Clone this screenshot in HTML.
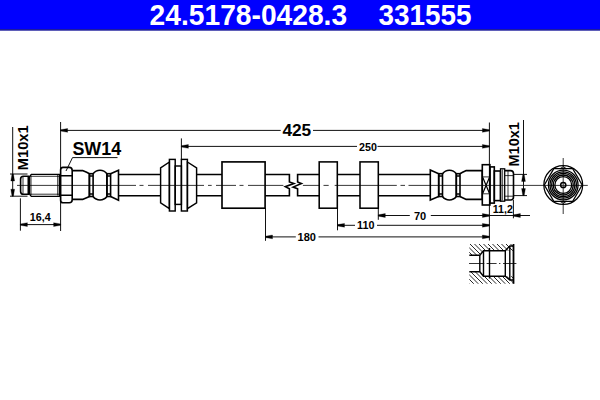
<!DOCTYPE html>
<html><head><meta charset="utf-8"><style>
html,body{margin:0;padding:0;background:#fff;width:600px;height:400px;overflow:hidden}
svg{display:block}
text{font-family:"Liberation Sans",sans-serif;font-weight:bold}
</style></head><body>
<svg width="600" height="400" viewBox="0 0 600 400">
<rect x="0" y="0" width="600" height="29" fill="#0000ff"/>
<rect x="0" y="29" width="600" height="1.7" fill="#1c1c9c"/>
<text transform="translate(149.6,24.6) scale(1,1.035)" font-size="28.2" fill="#fff">24.5178-0428.3</text>
<text transform="translate(378.5,24.6) scale(1,1.035)" font-size="27.9" fill="#fff">331555</text>

<g fill="none" stroke="#111" stroke-width="1">
<!-- left M10x1 dim -->
<line x1="12.7" y1="127" x2="12.7" y2="196.2"/>
<line x1="10" y1="174" x2="27.5" y2="174"/>
<line x1="10" y1="196.2" x2="27.5" y2="196.2"/>
<!-- right M10x1 dim -->
<line x1="523.5" y1="120" x2="523.5" y2="195.6"/>
<line x1="513.5" y1="174.4" x2="527" y2="174.4"/>
<line x1="513.5" y1="195.6" x2="527" y2="195.6"/>
<!-- 425 -->
<line x1="60.6" y1="122" x2="60.6" y2="231"/>
<line x1="489.4" y1="122.5" x2="489.4" y2="240.5"/>
<line x1="60.6" y1="130.4" x2="280.7" y2="130.4"/>
<line x1="313" y1="130.4" x2="489.4" y2="130.4"/>
<!-- 250 -->
<line x1="181.4" y1="138.4" x2="181.4" y2="160"/>
<line x1="181.4" y1="146.4" x2="357" y2="146.4"/>
<line x1="377.5" y1="146.4" x2="489.4" y2="146.4"/>
<!-- SW14 leader -->
<polyline points="117.5,157.6 72.5,157.6 66,171"/>
<!-- 16,4 -->
<line x1="20.4" y1="198.3" x2="20.4" y2="230.7"/>
<line x1="20.4" y1="224.6" x2="60.6" y2="224.6"/>
<!-- 180 -->
<line x1="265.5" y1="208" x2="265.5" y2="240.8"/>
<line x1="265.5" y1="236.9" x2="295.8" y2="236.9"/>
<line x1="318.5" y1="236.9" x2="489.4" y2="236.9"/>
<!-- 110 -->
<line x1="337.5" y1="208" x2="337.5" y2="230.3"/>
<line x1="337.5" y1="225.3" x2="355" y2="225.3"/>
<line x1="377" y1="225.3" x2="489.4" y2="225.3"/>
<!-- 70 / 11,2 -->
<line x1="378.3" y1="208" x2="378.3" y2="219.8"/>
<line x1="378.3" y1="215.5" x2="409.8" y2="215.5"/>
<line x1="430.8" y1="215.5" x2="530" y2="215.5"/>
<line x1="513.4" y1="200" x2="513.4" y2="218.3"/>
</g>

<g fill="#000" stroke="#000" stroke-width="0.3">
<polygon points="12.00,174.00 10.80,181.00 14.60,181.00 13.40,174.00"/>
<polygon points="12.00,196.20 10.80,189.20 14.60,189.20 13.40,196.20"/>
<polygon points="522.80,174.40 521.60,181.40 525.40,181.40 524.20,174.40"/>
<polygon points="522.80,195.60 521.60,188.60 525.40,188.60 524.20,195.60"/>
<polygon points="60.60,129.70 67.60,128.50 67.60,132.30 60.60,131.10"/>
<polygon points="489.40,129.70 482.40,128.50 482.40,132.30 489.40,131.10"/>
<polygon points="181.40,145.70 188.40,144.50 188.40,148.30 181.40,147.10"/>
<polygon points="489.40,145.70 482.40,144.50 482.40,148.30 489.40,147.10"/>
<polygon points="20.40,223.90 27.40,222.70 27.40,226.50 20.40,225.30"/>
<polygon points="60.60,223.90 53.60,222.70 53.60,226.50 60.60,225.30"/>
<polygon points="265.50,236.20 272.50,235.00 272.50,238.80 265.50,237.60"/>
<polygon points="489.40,236.20 482.40,235.00 482.40,238.80 489.40,237.60"/>
<polygon points="337.50,224.60 344.50,223.40 344.50,227.20 337.50,226.00"/>
<polygon points="489.40,224.60 482.40,223.40 482.40,227.20 489.40,226.00"/>
<polygon points="378.30,214.80 385.30,213.60 385.30,217.40 378.30,216.20"/>
<polygon points="489.40,214.80 482.40,213.60 482.40,217.40 489.40,216.20"/>
<polygon points="513.40,214.80 520.40,213.60 520.40,217.40 513.40,216.20"/>
</g>

<!-- dimension texts -->
<g fill="#000">
<text x="282.4" y="136" font-size="17.3">425</text>
<text x="359.0" y="150.5" font-size="10.7">250</text>
<text x="72.4" y="155.2" font-size="17.9">SW14</text>
<text x="29.8" y="220.9" font-size="10.7">16,4</text>
<text x="297.6" y="241" font-size="11">180</text>
<text x="357" y="229.3" font-size="10.8">110</text>
<text x="414" y="220" font-size="11">70</text>
<text x="492.8" y="213.1" font-size="10.6">11,2</text>
<text transform="translate(27.7,170.2) rotate(-90)" font-size="14.7">M10x1</text>
<text transform="translate(519.2,166.5) rotate(-90)" font-size="14.5">M10x1</text>
</g>

<!-- centerline -->
<g stroke="#222" stroke-width="0.9" fill="none">
<path d="M17 185.4H136 M139.5 185.4H143.5 M148 185.4H204 M208 185.4H211.7 M216 185.4H236 M239.5 185.4H243.5 M248 185.4H283.4 M302.9 185.4H319.8 M323.5 185.4H328.7 M334.7 185.4H396.8 M400.5 185.4H405 M408.5 185.4H587.8"/>
<line x1="563.2" y1="158" x2="563.2" y2="214"/>
</g>

<!-- hose -->
<g fill="none" stroke="#000" stroke-width="1.6">
<path d="M118.5 174.5H160.4 M118.5 195.7H160.4"/>
<path d="M196.6 174.5H222 M196.6 195.7H222"/>
<path d="M265.2 174.5H289.4V182L293.9 183.5L285.3 186.7L289.4 188.8V195.7H265.2"/>
<path d="M319.1 174.5H297.6V182L301.4 183.5L293.1 187.1L297.6 188.8V195.7H319.1"/>
<path d="M337.3 174.5H360 M337.3 195.7H360"/>
<path d="M378.3 174.5H430.3 M378.3 195.7H430.3"/>
<!-- boxes -->
<rect x="222" y="161.9" width="43.1" height="46.3" stroke-width="1.65"/>
<rect x="319.2" y="161.9" width="18.1" height="46.3" stroke-width="1.55"/>
<rect x="360" y="161.9" width="18.3" height="46.3" stroke-width="1.55"/>
<!-- grommet -->
<g stroke-width="1.45">
<path d="M160.6 167.8L169.4 162V208.6L160.6 202.8Z"/>
<rect x="169.4" y="159.4" width="5.8" height="51.6"/>
<rect x="175.2" y="166" width="6.2" height="38.4"/>
<rect x="181.4" y="159.4" width="6" height="51.6"/>
<path d="M187.4 162L196.6 167.8V202.8L187.4 208.6Z"/>
</g>
</g>

<!-- left fitting -->
<g fill="none" stroke="#000" stroke-width="1.6">
<path d="M23.4 176.2H28.3V194.2H23.4Q20.6 194.2 20.6 191.4V179Q20.6 176.2 23.4 176.2Z"/>
<path d="M31.3 174.4H59.4V196.3H31.3L29.6 194.2V176.5Z" stroke-width="1.3"/>
<path d="M63 167.4H69.2Q72.2 167.4 72.2 170.4V199.8Q72.2 202.8 69.2 202.8H63Q60.6 202.8 60.6 200.2V170Q60.6 167.4 63 167.4Z"/>
<path d="M60.6 175.7H72.2 M60.6 195.3H72.2"/>
<path d="M72.2 170.6H82.5Q87.4 172.6 89.4 173.7V196.5Q87.4 197.4 82.5 199.4H72.2"/>
<rect x="89.4" y="173.7" width="3.7" height="22.8"/>
<path d="M93.1 173.7A8.6 8.6 0 0 1 106.9 173.7V196.5A8.6 8.6 0 0 1 93.1 196.5"/>
<rect x="106.9" y="173.7" width="3.7" height="22.8"/>
<path d="M110.6 173.7L118.5 170.2V200.2L110.6 196.5"/>
</g>
<g fill="none" stroke="#000" stroke-width="0.8">
<path d="M23 176.5V193.7 M57.7 175V195.5 M31 175.5V195 M30 176.3H59 M30 194.2H59" stroke-width="0.8"/>
<path d="M89.4 176.1H93.1 M89.4 194.1H93.1 M106.9 176.1H110.6 M106.9 194.1H110.6" stroke-width="1.5"/>
</g>

<!-- right fitting -->
<g fill="none" stroke="#000" stroke-width="1.6">
<path d="M430.3 170L438.7 173.7V196.5L430.3 200Z"/>
<rect x="438.7" y="173.7" width="3.8" height="22.8"/>
<path d="M442.5 173.7A8.6 8.6 0 0 1 456.3 173.7V196.5A8.6 8.6 0 0 1 442.5 196.5"/>
<rect x="456.3" y="173.7" width="3.7" height="22.8"/>
<path d="M460 173.7Q462 172.6 466.3 170.6H482.2V199.4H466.3Q462 197.4 460 196.5"/>
<rect x="482.3" y="164.7" width="7.6" height="40.3"/>
<rect x="489.9" y="166.9" width="4.4" height="36.2"/>
<rect x="494.3" y="171" width="6.2" height="29.6"/>
<rect x="500.5" y="168.8" width="4.2" height="32.4" stroke-width="1.3"/>
<path d="M505 170.6H510.5Q513.5 170.6 513.5 173.6V197Q513.5 200 510.5 200H505"/>
</g>
<g fill="none" stroke="#000" stroke-width="0.8">
<path d="M438.7 176.1H442.5 M438.7 194.1H442.5 M456.3 176.1H460 M456.3 194.1H460" stroke-width="1.5"/>
<path d="M482.3 176.9H489.9 M482.3 193.8H489.9"/>
<path d="M502.6 169.5V200.5" stroke-width="0.7"/>
<path d="M508 171V199.5 M505 175.6H513 M505 196.2H513"/>
</g>
<path d="M482.8 177.4L489.4 193.3 M489.4 177.4L482.8 193.3" stroke="#000" stroke-width="1.2" fill="none"/>

<!-- end view -->
<g fill="none" stroke="#000" stroke-width="1.25" transform="translate(563.25,185)">
<circle r="19.4"/>
<polygon points="18.9,0 9.45,16.35 -9.45,16.35 -18.9,0 -9.45,-16.35 9.45,-16.35"/>
<polyline points="-3.2,-16.35 0,-18.3 3.2,-16.35" stroke-width="0.9"/>
<polyline points="-3.2,16.35 0,18.3 3.2,16.35" stroke-width="0.9"/>
<circle r="14.8" stroke-width="1.3"/>
<circle r="13.2" stroke-width="1.3"/>
<circle r="11.6" stroke-width="1.3"/>
<circle r="10.0" stroke-width="1.3"/>
<circle r="8.4" stroke-width="1.3"/>
<circle r="2.6" stroke-width="1.5"/>
</g>

<!-- section view -->
<defs>
<clipPath id="hc">
<path d="M469.3 244H513.5V250.8H483.5L479.8 255.3H469.3Z M469.3 271.8H479.8L483.5 276.3H513.5V283.8H469.3Z"/>
</clipPath>
</defs>
<g clip-path="url(#hc)" stroke="#000" stroke-width="0.85" fill="none">
<path d="M397.50 230L457.50 290 M402.00 230L462.00 290 M406.50 230L466.50 290 M411.00 230L471.00 290 M415.50 230L475.50 290 M420.00 230L480.00 290 M424.50 230L484.50 290 M429.00 230L489.00 290 M433.50 230L493.50 290 M438.00 230L498.00 290 M442.50 230L502.50 290 M447.00 230L507.00 290 M451.50 230L511.50 290 M456.00 230L516.00 290 M460.50 230L520.50 290 M465.00 230L525.00 290 M469.50 230L529.50 290 M474.00 230L534.00 290 M478.50 230L538.50 290 M483.00 230L543.00 290 M487.50 230L547.50 290 M492.00 230L552.00 290 M496.50 230L556.50 290 M501.00 230L561.00 290 M505.50 230L565.50 290 M510.00 230L570.00 290 M514.50 230L574.50 290 M519.00 230L579.00 290"/>
</g>
<g fill="none" stroke="#000" stroke-width="1.4">
<path d="M469.3 255.3H479.8L483.5 250.8H505.3L509.8 246H513.5 M469.3 271.8H479.8L483.5 276.3H505.3L509.8 280H513.5"/>
<path d="M479.8 255.3V271.8 M483.5 250.8V276.3 M505.3 250.8V276.3 M509.8 246V280"/>
<path d="M489.5 248V278.5"/>
<path d="M513.5 244V283.8" stroke-width="1.8"/>
</g>
<path d="M469 263.5H484.3 M486.6 263.5H496.6 M499 263.5H500.4 M503 263.5H516.4" stroke="#000" stroke-width="0.8"/>
</svg>
</body></html>
